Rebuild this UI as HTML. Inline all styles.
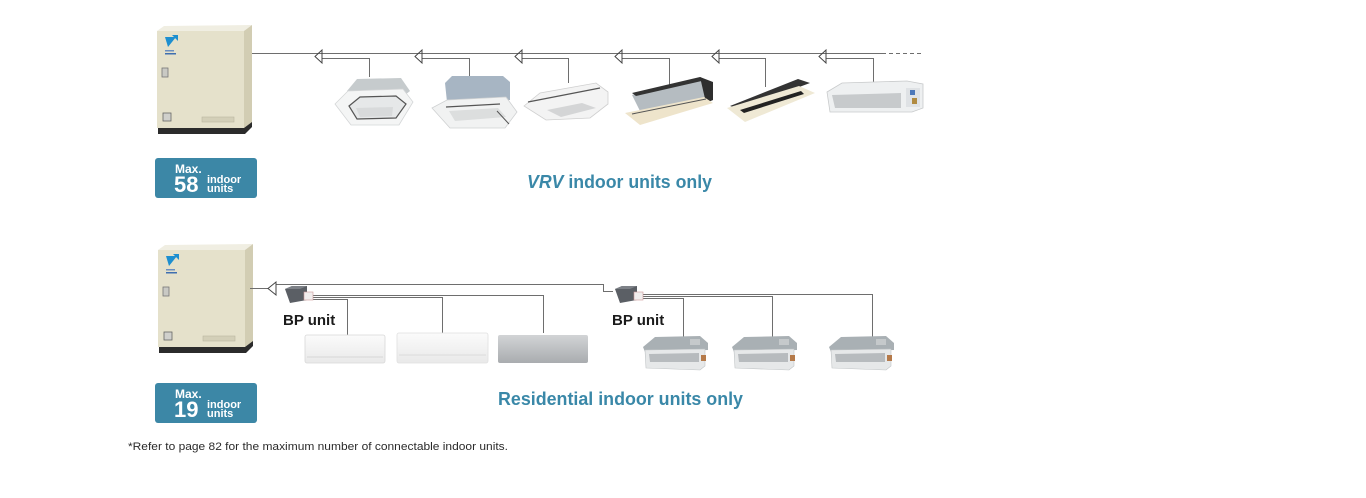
<!DOCTYPE html>
<html><head><meta charset="utf-8"><style>
html,body{margin:0;padding:0;background:#fff;}
svg{display:block;}
text{font-family:"Liberation Sans",Arial,sans-serif;}
</style></head><body>
<svg width="1366" height="498" viewBox="0 0 1366 498" xmlns="http://www.w3.org/2000/svg">
<defs>
<linearGradient id="silver" x1="0" y1="0" x2="0" y2="1"><stop offset="0" stop-color="#d2d4d6"/><stop offset="1" stop-color="#a9acaf"/></linearGradient>
<linearGradient id="wall" x1="0" y1="0" x2="0" y2="1"><stop offset="0" stop-color="#fbfbfb"/><stop offset="1" stop-color="#e9e9e9"/></linearGradient>
</defs>

<!-- OUTDOOR UNIT (top) -->
<g id="ou">
<polygon points="157,31 164,26 252,25 244,31" fill="#f0eee2"/>
<rect x="157" y="31" width="87" height="97" fill="#e5e1cb"/>
<polygon points="244,31 252,25 252,124 244,130" fill="#d2cdb3"/>
<rect x="158" y="128" width="87" height="6" fill="#2b2b2b"/>
<polygon points="244,128 252,122 252,127 245,134" fill="#2b2b2b"/>
<polygon points="165,37 176,37 168,47" fill="#1d8fd0"/>
<polygon points="172,35 178,35 178,41" fill="#1d8fd0"/>
<rect x="165" y="50" width="9" height="1.5" fill="#6b8fc0"/>
<rect x="165" y="53" width="11" height="1.5" fill="#3f6fb0"/>
<rect x="162" y="68" width="6" height="9" fill="#c9c9c4" stroke="#777" stroke-width="0.8"/>
<rect x="163" y="113" width="8" height="8" fill="#d0d0cc" stroke="#666" stroke-width="0.8"/>
<rect x="202" y="117" width="32" height="5" fill="#d3cfb8" stroke="#bbb6a0" stroke-width="0.6"/>
</g>
<use href="#ou" transform="translate(1,219)"/>

<!-- BADGES -->
<g>
<rect x="155" y="158" width="102" height="40" rx="3" fill="#3c87a6"/>
<text x="175" y="173" font-size="12" font-weight="bold" fill="#fff">Max.</text>
<text x="174" y="192" font-size="22" font-weight="bold" fill="#fff">58</text>
<text x="207" y="183" font-size="11" font-weight="bold" fill="#fff">indoor</text>
<text x="207" y="192" font-size="11" font-weight="bold" fill="#fff">units</text>
</g>
<g transform="translate(0,225)">
<rect x="155" y="158" width="102" height="40" rx="3" fill="#3c87a6"/>
<text x="175" y="173" font-size="12" font-weight="bold" fill="#fff">Max.</text>
<text x="174" y="192" font-size="22" font-weight="bold" fill="#fff">19</text>
<text x="207" y="183" font-size="11" font-weight="bold" fill="#fff">indoor</text>
<text x="207" y="192" font-size="11" font-weight="bold" fill="#fff">units</text>
</g>

<!-- TOP PIPING -->
<g stroke="#6e6e6e" stroke-width="1" fill="none">
<line x1="252" y1="53.5" x2="882" y2="53.5"/>
<line x1="882" y1="53.5" x2="923" y2="53.5" stroke-dasharray="4,3"/>
<polyline points="322,58.5 369.5,58.5 369.5,77"/>
<polyline points="422,58.5 469.5,58.5 469.5,76"/>
<polyline points="522,58.5 568.5,58.5 568.5,83"/>
<polyline points="622,58.5 669.5,58.5 669.5,85"/>
<polyline points="719,58.5 765.5,58.5 765.5,87"/>
<polyline points="826,58.5 873.5,58.5 873.5,85"/>
</g>
<g stroke="#444" stroke-width="1" fill="none">
<polygon points="315,56.5 322,50 322,63"/>
<polygon points="415,56.5 422,50 422,63"/>
<polygon points="515,56.5 522,50 522,63"/>
<polygon points="615,56.5 622,50 622,63"/>
<polygon points="712,56.5 719,50 719,63"/>
<polygon points="819,56.5 826,50 826,63"/>
</g>

<!-- TOP INDOOR UNITS -->
<g>
<polygon points="347,91 357,79 401,78 410,91 400,99 357,100" fill="#c6cbcd"/>
<polygon points="335,104 348,91 403,89 413,102 399,125 351,125" fill="#f4f5f5" stroke="#d4d6d7" stroke-width="0.8"/>
<polygon points="349,106 360,97 396,96 406,104 396,118 357,119" fill="#e6e8e9" stroke="#555" stroke-width="1.2"/>
<polygon points="356,108 393,107 392,116 360,117" fill="#d8dadb"/>
</g>
<g>
<polygon points="445,83 452,76 503,76 510,82 510,100 447,102" fill="#a7b5c3"/>
<polygon points="432,108 447,100 506,97 517,112 505,128 450,128" fill="#f1f2f2" stroke="#cfd1d2" stroke-width="0.8"/>
<polygon points="449,111 498,108 506,117 455,121" fill="#dcdede"/>
<line x1="446" y1="107" x2="500" y2="104" stroke="#555" stroke-width="1.2"/>
<line x1="497" y1="111" x2="509" y2="124" stroke="#555" stroke-width="1"/>
</g>
<g>
<polygon points="524,106 540,93 596,83 608,92 608,104 590,118 546,120" fill="#f3f3f3" stroke="#cfcfcf" stroke-width="0.8"/>
<line x1="528" y1="102" x2="600" y2="88" stroke="#555" stroke-width="1.2"/>
<polygon points="547,110 582,103 596,108 561,117" fill="#d4d5d6"/>
</g>
<g>
<polygon points="632,95 700,78 710,83 710,96 640,111" fill="#b5bcc1"/>
<polygon points="632,93 700,77 706,80 636,96" fill="#333"/>
<polygon points="700,77 713,82 713,100 706,103" fill="#2e2e2e"/>
<polygon points="625,113 704,97 713,103 640,125" fill="#eee4cb"/>
<line x1="632" y1="114" x2="706" y2="99" stroke="#555" stroke-width="1"/>
</g>
<g>
<polygon points="730,106 798,79 810,83 740,109" fill="#333"/>
<polygon points="727,108 799,86 815,93 745,122" fill="#efe9d5"/>
<polygon points="740,110 801,91 804,94 744,113" fill="#222"/>
</g>
<g>
<polygon points="827,92 842,83 907,81 923,84 923,108 912,112 830,112" fill="#eef0f1" stroke="#c8cacb" stroke-width="0.8"/>
<polygon points="832,95 901,93 901,108 835,108" fill="#c7cacc"/>
<rect x="906" y="88" width="14" height="19" fill="#dfe2e5"/>
<rect x="910" y="90" width="5" height="5" fill="#4d78b8"/>
<rect x="912" y="98" width="5" height="6" fill="#b08a40"/>
</g>

<text x="527" y="188" font-size="18" font-weight="bold" fill="#3a88a8" textLength="185" lengthAdjust="spacingAndGlyphs"><tspan font-style="italic">VRV</tspan> indoor units only</text>

<!-- BOTTOM PIPING -->
<g stroke="#6e6e6e" stroke-width="1" fill="none">
<line x1="250" y1="288.5" x2="268" y2="288.5"/>
<polyline points="276,284.5 603.5,284.5 603.5,291.5 613,291.5"/>
<polyline points="313,295.5 543.5,295.5 543.5,333"/>
<polyline points="313,297.5 442.5,297.5 442.5,333"/>
<polyline points="313,299.5 347.5,299.5 347.5,335"/>
<polyline points="643,294.5 872.5,294.5 872.5,337"/>
<polyline points="643,296.5 772.5,296.5 772.5,337"/>
<polyline points="643,298.5 683.5,298.5 683.5,338"/>
</g>
<polygon points="268,288.5 276,282 276,295" fill="none" stroke="#444" stroke-width="1"/>

<!-- BP units -->
<g id="bp">
<polygon points="285,289 292,286 307,286 307,300 290,303" fill="#5b5f65"/>
<polygon points="285,289 292,286 307,286 300,289" fill="#7d8187"/>
<rect x="304" y="292" width="9" height="8" fill="#f2eeee" stroke="#c99" stroke-width="0.6"/>
</g>
<use href="#bp" transform="translate(330,0)"/>

<text x="283" y="325" font-size="15" font-weight="bold" fill="#1b1b1b">BP unit</text>
<text x="612" y="325" font-size="15" font-weight="bold" fill="#1b1b1b">BP unit</text>

<!-- wall units -->
<rect x="305" y="335" width="80" height="28" rx="2" fill="url(#wall)" stroke="#d8d8d8" stroke-width="0.8"/>
<line x1="307" y1="357" x2="383" y2="357" stroke="#cfcfcf" stroke-width="0.8"/>
<rect x="397" y="333" width="91" height="30" rx="2" fill="url(#wall)" stroke="#e0e0e0" stroke-width="0.8"/>
<line x1="399" y1="355" x2="486" y2="355" stroke="#d4d4d4" stroke-width="0.8"/>
<rect x="498" y="335" width="90" height="28" rx="2" fill="url(#silver)"/>

<!-- duct units bottom -->
<g id="du">
<polygon points="643,347 655,337 700,336 708,343 708,350 645,352" fill="#a9b0b4"/>
<polygon points="645,350 705,349 705,366 700,370 646,368" fill="#e6e8e9" stroke="#bfc3c5" stroke-width="0.6"/>
<polygon points="649,354 699,353 699,362 650,362" fill="#b7bbbe"/>
<rect x="690" y="339" width="10" height="6" fill="#c5c9cb"/>
<rect x="701" y="355" width="5" height="6" fill="#b57a4a"/>
</g>
<use href="#du" transform="translate(89,0)"/>
<use href="#du" transform="translate(186,0)"/>

<text x="498" y="405" font-size="18" font-weight="bold" fill="#3a88a8" textLength="245" lengthAdjust="spacingAndGlyphs">Residential indoor units only</text>

<text x="128" y="450" font-size="11" fill="#2a2a2a" textLength="380" lengthAdjust="spacingAndGlyphs">*Refer to page 82 for the maximum number of connectable indoor units.</text>
</svg>
</body></html>
